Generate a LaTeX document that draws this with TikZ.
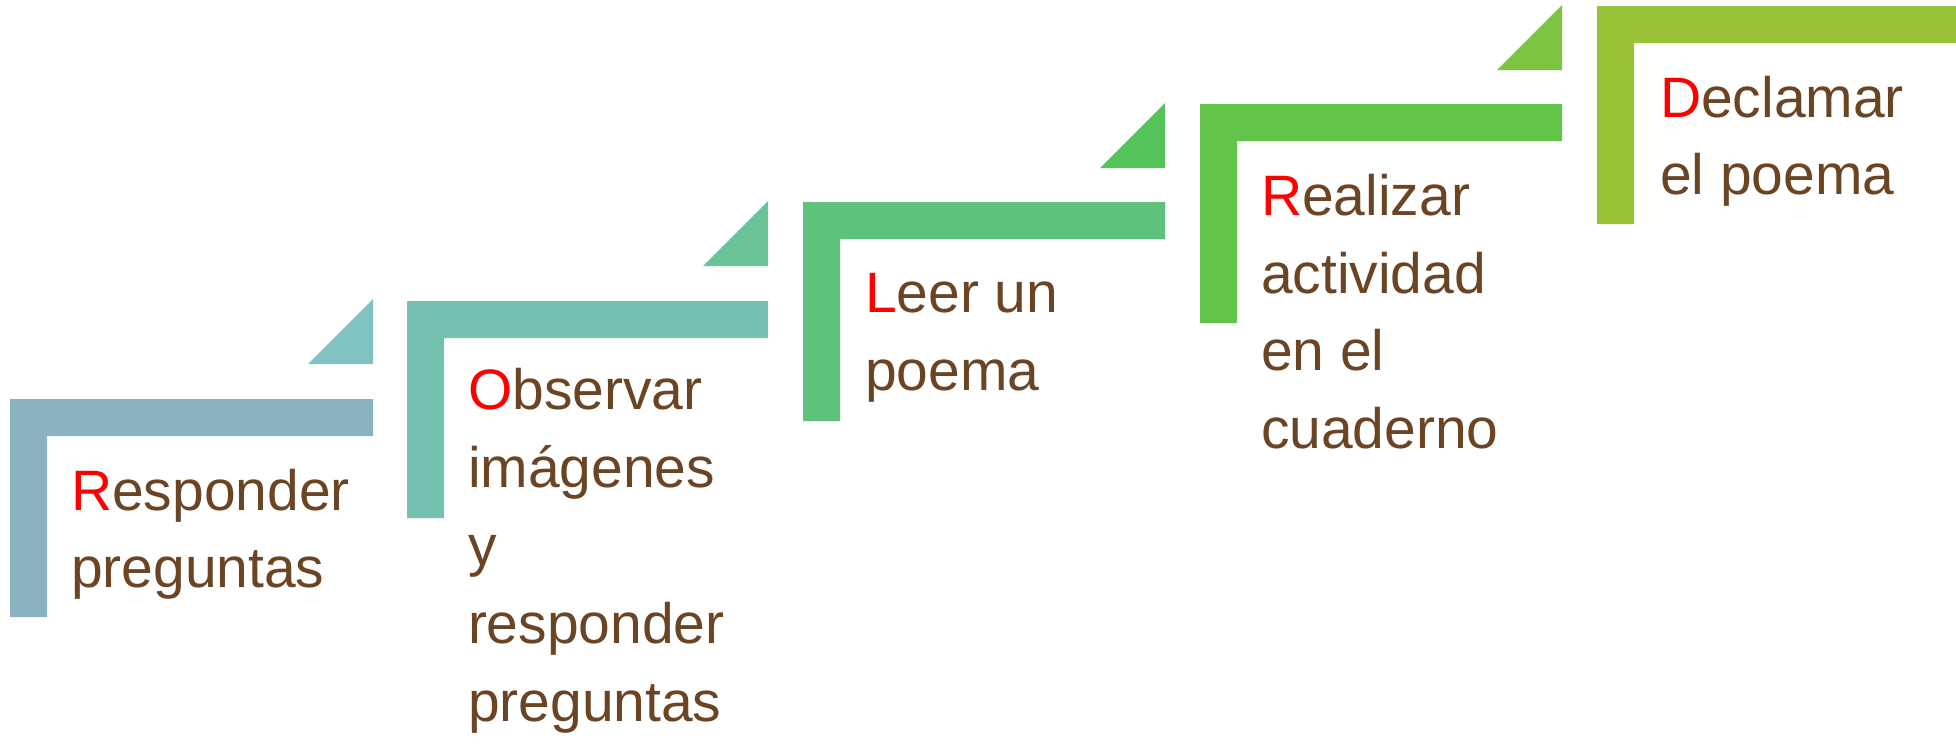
\documentclass[tikz,border=0pt]{standalone}
\usepackage{fontspec}
\setmainfont{Liberation Sans}
\definecolor{cA}{HTML}{8AB2C1}
\definecolor{tB}{HTML}{80C1C1}
\definecolor{cB}{HTML}{74C1B0}
\definecolor{tC}{HTML}{6BC39A}
\definecolor{cC}{HTML}{5EC27B}
\definecolor{tD}{HTML}{55C45A}
\definecolor{cD}{HTML}{62C449}
\definecolor{tE}{HTML}{7DC540}
\definecolor{cE}{HTML}{98C238}
\definecolor{txtbrown}{HTML}{6B4424}
\definecolor{txtred}{HTML}{FF0000}
\tikzset{
  label/.style={anchor=base west, inner sep=0pt, outer sep=0pt, text=txtbrown,
    font=\fontsize{57}{78}\selectfont},
}
\newcommand{\Lshape}[5]{% color, L, T, R, B
  \fill[#1] (#2,#3) -- (#4,#3) -- (#4,#3+37) -- (#2+37,#3+37) -- (#2+37,#5) -- (#2,#5) -- cycle;}
\newcommand{\Ltri}[4]{% color, right x, top y, bottom y
  \fill[#1] (#2,#3) -- (#2,#4) -- (#2-65,#4) -- cycle;}
\newcommand{\RL}[1]{{\color{txtred}#1}}
\begin{document}
\begin{tikzpicture}[x=1pt,y=-1pt]
\useasboundingbox (0,0) rectangle (1956,748);
\fill[white] (0,0) rectangle (1956,748);
% blocks
\Lshape{cA}{10}{399}{373}{617}
\Lshape{cB}{407}{301}{768}{518}
\Lshape{cC}{803}{202}{1165}{421}
\Lshape{cD}{1200}{104}{1562}{323}
\Lshape{cE}{1597}{6}{1956}{224}
% triangles
\Ltri{tB}{373}{299}{364}
\Ltri{tC}{768}{201}{266}
\Ltri{tD}{1165}{103}{168}
\Ltri{tE}{1562}{5}{70}
% texts
\node[label] (a1) at (71,510) {\RL{R}esponder};
\node[label] (a2) at (71,587) {preguntas};
\node[label] (b1) at (468,409) {\RL{O}bservar};
\node[label] (b2) at (468,487) {imágenes};
\node[label] (b3) at (468,565) {y};
\node[label] (b4) at (468,643) {responder};
\node[label] (b5) at (468,721) {preguntas};
\node[label] (c1) at (865,312) {\RL{L}eer un};
\node[label] (c2) at (865,390) {poema};
\node[label] (d1) at (1261,215) {\RL{R}ealizar};
\node[label] (d2) at (1261,293) {actividad};
\node[label] (d3) at (1261,370) {en el};
\node[label] (d4) at (1261,448) {cuaderno};
\node[label] (e1) at (1660,117) {\RL{D}eclamar};
\node[label] (e2) at (1660,194) {el poema};
\end{tikzpicture}
\end{document}
